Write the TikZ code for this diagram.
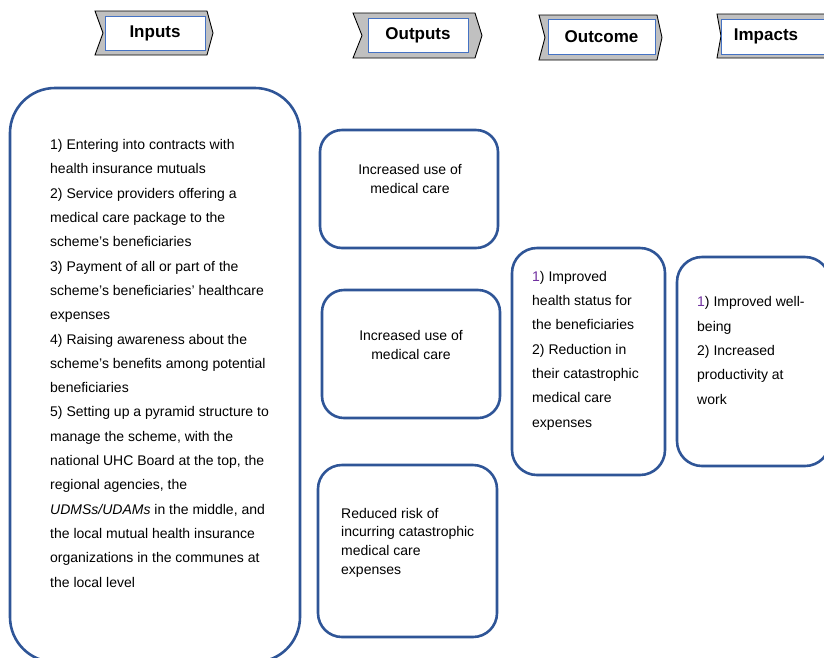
\documentclass[tikz,border=0pt]{standalone}
\usepackage{fontspec}
\setmainfont{Liberation Sans}
\definecolor{boxblue}{RGB}{47,85,151}
\definecolor{headblue}{RGB}{68,114,196}
\definecolor{headgrey}{RGB}{192,192,192}
\definecolor{numpurple}{RGB}{112,48,160}
\begin{document}
\begin{tikzpicture}[x=1pt,y=-1pt,
    rbox/.style={draw=boxblue,line width=2.6pt,fill=white},
    chevron/.style={draw=black,line width=0.9pt,fill=headgrey},
    headrect/.style={draw=headblue,line width=0.8pt,fill=white},
    headtxt/.style={font=\fontsize{17}{20}\selectfont\bfseries},
    bodytxt/.style={font=\fontsize{14}{24.3}\selectfont,align=left,inner sep=0pt,anchor=base west},
    smalltxt/.style={font=\fontsize{14}{18.6}\selectfont,inner sep=0pt,anchor=base}]

\useasboundingbox (0,0) rectangle (824,657);
\clip (0,0) rectangle (824,657);
\fill[white] (0,0) rectangle (824,657);

% headers
        \draw[chevron] (95,11) -- (207,11) -- (213,33) -- (207,55) -- (95,55) -- (103,33) -- cycle;
        \node (inputs) [headrect,headtxt,minimum width=100pt,minimum height=34pt] at (155,33) {Inputs};
        \draw[chevron] (353,13) -- (475,13) -- (482,35.5) -- (475,58) -- (353,58) -- (362,35.5) -- cycle;
        \node (outputs) [headrect,headtxt,minimum width=100pt,minimum height=34pt] at (418,35) {Outputs};
        \draw[chevron] (539,15) -- (657,15) -- (662,37.5) -- (657,60) -- (539,60) -- (545,37.5) -- cycle;
        \node (outcome) [headrect,headtxt,minimum width=107pt,minimum height=35pt] at (601.5,36.5) {Outcome};
        \draw[chevron] (717,14) -- (840,14) -- (840,58) -- (717,58) -- (721,36) -- cycle;
        \draw[headrect] (721,19) rectangle (840,54);
        \node (impacts) [headtxt] at (766,36) {Impacts};

% boxes (text nodes sit on the baseline of their last line)
        \draw[rbox,rounded corners=45pt] (10,88) rectangle (300,662);
        \node (in_list) [bodytxt] at (50,587) {1) Entering into contracts with\\health insurance mutuals\\2) Service providers offering a\\medical care package to the\\scheme’s beneficiaries\\3) Payment of all or part of the\\scheme’s beneficiaries’ healthcare\\expenses\\4) Raising awareness about the\\scheme’s benefits among potential\\beneficiaries\\5) Setting up a pyramid structure to\\manage the scheme, with the\\national UHC Board at the top, the\\regional agencies, the\\\textit{UDMSs/UDAMs} in the middle, and\\the local mutual health insurance\\organizations in the communes at\\the local level};

        \draw[rbox,rounded corners=22pt] (320,130) rectangle (498,248);
        \node (out_care1) [smalltxt,align=center] at (410,193) {Increased use of\\medical care};
        \draw[rbox,rounded corners=22pt] (322,290) rectangle (500,418);
        \node (out_care2) [smalltxt,align=center] at (411,359) {Increased use of\\medical care};
        \draw[rbox,rounded corners=24pt] (318,465) rectangle (497,637);
        \node (out_risk) [smalltxt,align=left,anchor=base west] at (341,574) {Reduced risk of\\incurring catastrophic\\medical care\\expenses};

        \draw[rbox,rounded corners=25pt] (512,248) rectangle (665,475);
        \node (oc_list) [bodytxt] at (532,427) {{\color{numpurple}1}) Improved\\health status for\\the beneficiaries\\2) Reduction in\\their catastrophic\\medical care\\expenses};

        \draw[rbox,rounded corners=25pt] (677,257) rectangle (830,466);
        \node (im_list) [bodytxt] at (697,404) {{\color{numpurple}1}) Improved well-\\being\\2) Increased\\productivity at\\work};

\end{tikzpicture}
\end{document}
